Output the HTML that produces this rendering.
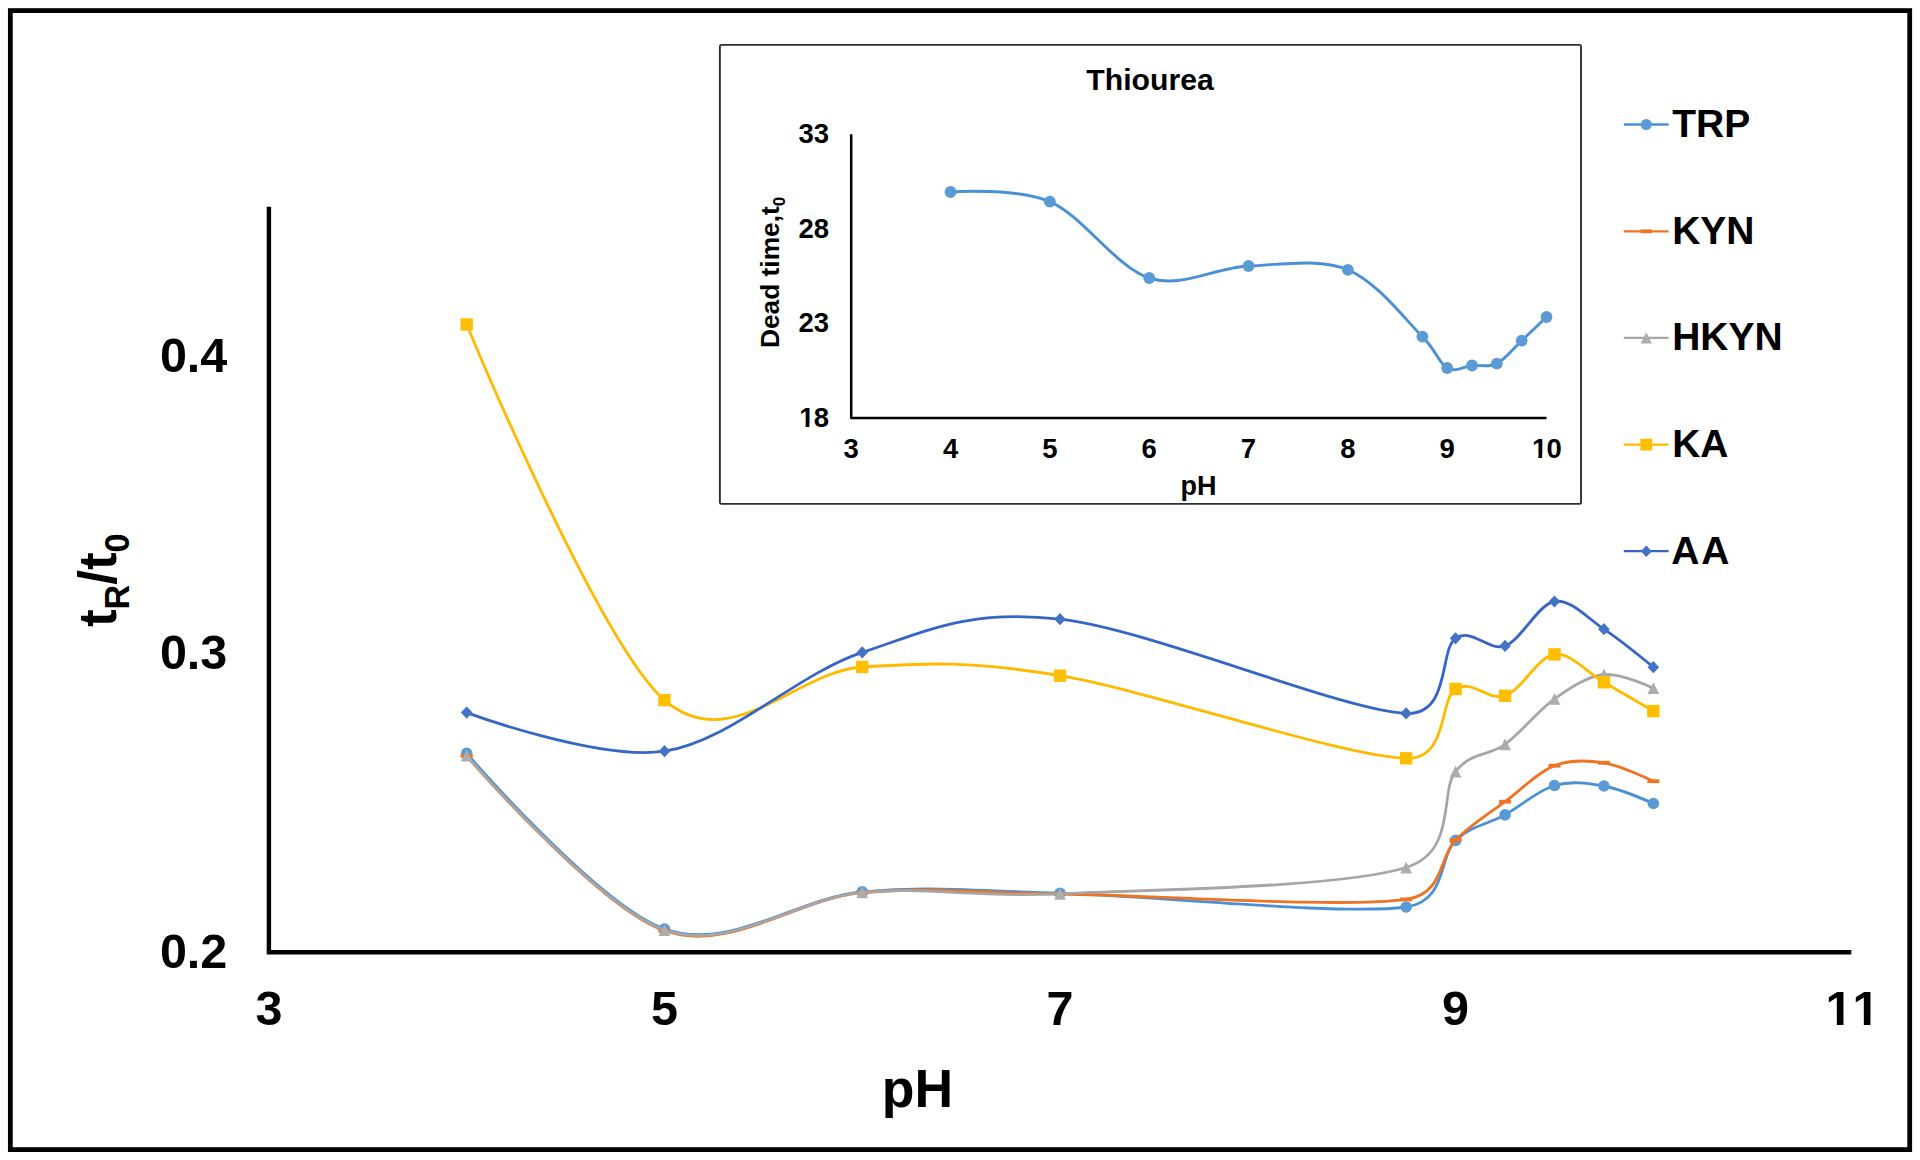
<!DOCTYPE html>
<html lang="en"><head><meta charset="utf-8"><title>tR/t0 vs pH</title>
<style>html,body{margin:0;padding:0;background:#fff;}body{width:1920px;height:1160px;overflow:hidden;}svg{display:block;}text{font-kerning:none;font-family:"Liberation Sans",Arial,sans-serif;font-weight:bold;fill:#000;}</style>
</head><body>
<svg width="1920" height="1160" viewBox="0 0 1920 1160">
<rect x="0" y="0" width="1920" height="1160" fill="#fff"/>
<rect x="10.35" y="10.6" width="1899.35" height="1139.0" fill="none" stroke="#000" stroke-width="4.8"/>
<path d="M268.9,206.8 V952.3 H1851.3" fill="none" stroke="#000" stroke-width="4.4" stroke-linejoin="miter"/>
<text x="227.3" y="371.6" font-size="48.5" text-anchor="end">0.4</text>
<text x="227.3" y="669.2" font-size="48.5" text-anchor="end">0.3</text>
<text x="227.3" y="967.6" font-size="48.5" text-anchor="end">0.2</text>
<text x="268.90" y="1025.40" font-size="48.5" text-anchor="middle">3</text>
<text x="664.46" y="1025.40" font-size="48.5" text-anchor="middle">5</text>
<text x="1060.02" y="1025.40" font-size="48.5" text-anchor="middle">7</text>
<text x="1455.58" y="1025.40" font-size="48.5" text-anchor="middle">9</text>
<text y="1025.40" font-size="48.5" x="1825.52 1852.50">11</text><rect x="1827.46" y="1019.34" width="9.38" height="7.56" fill="#fff"/><rect x="1843.50" y="1019.34" width="8.73" height="7.56" fill="#fff"/><rect x="1854.44" y="1019.34" width="9.38" height="7.56" fill="#fff"/><rect x="1870.47" y="1019.34" width="8.73" height="7.56" fill="#fff"/>
<text x="917.4" y="1106.6" font-size="53.5" text-anchor="middle">pH</text>
<text transform="translate(116,627) rotate(-90) scale(0.978,1)" font-size="54">t<tspan font-size="35" dy="13.2">R</tspan><tspan dy="-13.2">/t</tspan><tspan font-size="35" dy="13.2">0</tspan></text>
<path d="M466.68,753.40 C466.68,753.40 598.53,906.03 664.46,929.10 C730.39,952.17 796.31,897.78 862.24,891.80 C928.17,885.82 969.37,890.67 1060.02,893.20 C1150.67,895.73 1340.21,915.80 1406.13,907.00 C1447.24,901.51 1439.10,855.75 1455.58,840.40 C1472.06,825.05 1488.54,824.05 1505.03,814.90 C1521.51,805.75 1537.99,790.32 1554.47,785.50 C1570.95,780.68 1587.43,783.00 1603.91,786.00 C1620.40,789.00 1653.36,803.50 1653.36,803.50" fill="none" stroke="#4A90D6" stroke-width="2.8" stroke-linecap="round" stroke-linejoin="round"/>
<circle cx="466.68" cy="753.40" r="5.80" fill="#5B9BD5"/>
<circle cx="664.46" cy="929.10" r="5.80" fill="#5B9BD5"/>
<circle cx="862.24" cy="891.80" r="5.80" fill="#5B9BD5"/>
<circle cx="1060.02" cy="893.20" r="5.80" fill="#5B9BD5"/>
<circle cx="1406.13" cy="907.00" r="5.80" fill="#5B9BD5"/>
<circle cx="1455.58" cy="840.40" r="5.80" fill="#5B9BD5"/>
<circle cx="1505.03" cy="814.90" r="5.80" fill="#5B9BD5"/>
<circle cx="1554.47" cy="785.50" r="5.80" fill="#5B9BD5"/>
<circle cx="1603.91" cy="786.00" r="5.80" fill="#5B9BD5"/>
<circle cx="1653.36" cy="803.50" r="5.80" fill="#5B9BD5"/>
<path d="M466.68,756.00 C466.68,756.00 598.53,908.03 664.46,930.80 C730.39,953.57 796.31,898.73 862.24,892.60 C928.17,886.47 969.37,892.87 1060.02,894.00 C1150.67,895.13 1340.21,908.42 1406.13,899.40 C1444.46,894.16 1439.10,856.18 1455.58,839.90 C1472.06,823.62 1488.54,814.07 1505.03,801.70 C1521.51,789.33 1537.99,772.18 1554.47,765.70 C1570.95,759.22 1587.43,760.22 1603.91,762.80 C1620.40,765.38 1653.36,781.20 1653.36,781.20" fill="none" stroke="#EE7424" stroke-width="2.8" stroke-linecap="round" stroke-linejoin="round"/>
<rect x="460.68" y="754.10" width="12.00" height="3.80" fill="#EE7424"/>
<rect x="658.46" y="928.90" width="12.00" height="3.80" fill="#EE7424"/>
<rect x="856.24" y="890.70" width="12.00" height="3.80" fill="#EE7424"/>
<rect x="1054.02" y="892.10" width="12.00" height="3.80" fill="#EE7424"/>
<rect x="1400.13" y="897.50" width="12.00" height="3.80" fill="#EE7424"/>
<rect x="1449.58" y="838.00" width="12.00" height="3.80" fill="#EE7424"/>
<rect x="1499.03" y="799.80" width="12.00" height="3.80" fill="#EE7424"/>
<rect x="1548.47" y="763.80" width="12.00" height="3.80" fill="#EE7424"/>
<rect x="1597.91" y="760.90" width="12.00" height="3.80" fill="#EE7424"/>
<rect x="1647.36" y="779.30" width="12.00" height="3.80" fill="#EE7424"/>
<path d="M466.68,755.70 C466.68,755.70 598.53,907.22 664.46,930.00 C730.39,952.78 796.31,898.43 862.24,892.40 C928.17,886.37 969.37,897.95 1060.02,893.80 C1150.67,889.65 1340.21,887.88 1406.13,867.50 C1457.72,851.55 1439.10,792.02 1455.58,771.50 C1472.06,750.98 1488.54,756.50 1505.03,744.40 C1521.51,732.30 1537.99,710.55 1554.47,698.90 C1570.95,687.25 1587.43,676.28 1603.91,674.50 C1620.40,672.72 1653.36,688.20 1653.36,688.20" fill="none" stroke="#A6A6A6" stroke-width="2.8" stroke-linecap="round" stroke-linejoin="round"/>
<path d="M466.68,749.80 L472.58,761.60 L460.78,761.60 Z" fill="#ADADAD"/>
<path d="M664.46,924.10 L670.36,935.90 L658.56,935.90 Z" fill="#ADADAD"/>
<path d="M862.24,886.50 L868.14,898.30 L856.34,898.30 Z" fill="#ADADAD"/>
<path d="M1060.02,887.90 L1065.92,899.70 L1054.12,899.70 Z" fill="#ADADAD"/>
<path d="M1406.13,861.60 L1412.03,873.40 L1400.23,873.40 Z" fill="#ADADAD"/>
<path d="M1455.58,765.60 L1461.48,777.40 L1449.68,777.40 Z" fill="#ADADAD"/>
<path d="M1505.03,738.50 L1510.93,750.30 L1499.12,750.30 Z" fill="#ADADAD"/>
<path d="M1554.47,693.00 L1560.37,704.80 L1548.57,704.80 Z" fill="#ADADAD"/>
<path d="M1603.91,668.60 L1609.82,680.40 L1598.01,680.40 Z" fill="#ADADAD"/>
<path d="M1653.36,682.30 L1659.26,694.10 L1647.46,694.10 Z" fill="#ADADAD"/>
<path d="M466.68,324.50 C466.68,324.50 598.53,643.02 664.46,700.10 C730.39,757.18 796.31,671.07 862.24,667.00 C928.17,662.93 969.37,660.48 1060.02,675.70 C1150.67,690.92 1340.21,756.08 1406.13,758.30 C1448.68,759.73 1439.10,699.42 1455.58,689.00 C1472.06,678.58 1488.54,701.57 1505.03,695.80 C1521.51,690.03 1537.99,656.65 1554.47,654.40 C1570.95,652.15 1587.43,672.85 1603.91,682.30 C1620.40,691.75 1653.36,711.10 1653.36,711.10" fill="none" stroke="#FFBA00" stroke-width="2.8" stroke-linecap="round" stroke-linejoin="round"/>
<rect x="460.48" y="318.30" width="12.40" height="12.40" fill="#FFBE00"/>
<rect x="658.26" y="693.90" width="12.40" height="12.40" fill="#FFBE00"/>
<rect x="856.04" y="660.80" width="12.40" height="12.40" fill="#FFBE00"/>
<rect x="1053.82" y="669.50" width="12.40" height="12.40" fill="#FFBE00"/>
<rect x="1399.93" y="752.10" width="12.40" height="12.40" fill="#FFBE00"/>
<rect x="1449.38" y="682.80" width="12.40" height="12.40" fill="#FFBE00"/>
<rect x="1498.83" y="689.60" width="12.40" height="12.40" fill="#FFBE00"/>
<rect x="1548.27" y="648.20" width="12.40" height="12.40" fill="#FFBE00"/>
<rect x="1597.71" y="676.10" width="12.40" height="12.40" fill="#FFBE00"/>
<rect x="1647.16" y="704.90" width="12.40" height="12.40" fill="#FFBE00"/>
<path d="M466.68,712.60 C466.68,712.60 598.53,761.23 664.46,751.20 C730.39,741.17 796.31,674.40 862.24,652.40 C928.17,630.40 969.37,609.03 1060.02,619.20 C1150.67,629.37 1340.21,710.22 1406.13,713.40 C1451.04,715.57 1439.10,649.55 1455.58,638.30 C1472.06,627.05 1488.54,652.03 1505.03,645.90 C1521.51,639.77 1537.99,604.28 1554.47,601.50 C1570.95,598.72 1587.43,618.25 1603.91,629.20 C1620.40,640.15 1653.36,667.20 1653.36,667.20" fill="none" stroke="#3566C6" stroke-width="2.8" stroke-linecap="round" stroke-linejoin="round"/>
<path d="M460.88,712.60 L466.68,706.50 L472.48,712.60 L466.68,718.70 Z" fill="#4472C4"/>
<path d="M658.66,751.20 L664.46,745.10 L670.26,751.20 L664.46,757.30 Z" fill="#4472C4"/>
<path d="M856.44,652.40 L862.24,646.30 L868.04,652.40 L862.24,658.50 Z" fill="#4472C4"/>
<path d="M1054.22,619.20 L1060.02,613.10 L1065.82,619.20 L1060.02,625.30 Z" fill="#4472C4"/>
<path d="M1400.33,713.40 L1406.13,707.30 L1411.93,713.40 L1406.13,719.50 Z" fill="#4472C4"/>
<path d="M1449.78,638.30 L1455.58,632.20 L1461.38,638.30 L1455.58,644.40 Z" fill="#4472C4"/>
<path d="M1499.23,645.90 L1505.03,639.80 L1510.83,645.90 L1505.03,652.00 Z" fill="#4472C4"/>
<path d="M1548.67,601.50 L1554.47,595.40 L1560.27,601.50 L1554.47,607.60 Z" fill="#4472C4"/>
<path d="M1598.12,629.20 L1603.91,623.10 L1609.71,629.20 L1603.91,635.30 Z" fill="#4472C4"/>
<path d="M1647.56,667.20 L1653.36,661.10 L1659.16,667.20 L1653.36,673.30 Z" fill="#4472C4"/>
<path d="M1623.8,124.5 H1668.6" stroke="#4A90D6" stroke-width="2.3" fill="none"/>
<circle cx="1646.30" cy="124.50" r="5.51" fill="#5B9BD5"/>
<text x="1672.2" y="136.8" font-size="39">TRP</text>
<path d="M1623.8,231.3 H1668.6" stroke="#EE7424" stroke-width="2.3" fill="none"/>
<rect x="1640.60" y="229.40" width="11.40" height="3.80" fill="#EE7424"/>
<text x="1672.2" y="243.6" font-size="39">KYN</text>
<path d="M1623.8,337.9 H1668.6" stroke="#A6A6A6" stroke-width="2.3" fill="none"/>
<path d="M1646.30,332.29 L1651.90,343.50 L1640.69,343.50 Z" fill="#ADADAD"/>
<text x="1672.2" y="350.2" font-size="39">HKYN</text>
<path d="M1623.8,444.6 H1668.6" stroke="#FFBA00" stroke-width="2.3" fill="none"/>
<rect x="1640.41" y="438.71" width="11.78" height="11.78" fill="#FFBE00"/>
<text x="1672.2" y="456.9" font-size="39">KA</text>
<path d="M1623.8,551.2 H1668.6" stroke="#3566C6" stroke-width="2.3" fill="none"/>
<path d="M1640.79,551.20 L1646.30,545.41 L1651.81,551.20 L1646.30,557.00 Z" fill="#4472C4"/>
<text x="1671.3 1701.3" y="563.5" font-size="39">AA</text>
<rect x="719.9" y="44.9" width="861.1" height="459.0" rx="1.5" fill="#fff" stroke="#2e2e2e" stroke-width="1.9"/>
<text x="1150" y="89.8" font-size="30.2" text-anchor="middle">Thiourea</text>
<path d="M851.2,134.2 V418.1 H1546.5" fill="none" stroke="#000" stroke-width="2.5" stroke-linejoin="round"/>
<text x="829.03" y="143.00" font-size="27.5" text-anchor="end">33</text>
<text x="829.03" y="237.60" font-size="27.5" text-anchor="end">28</text>
<text x="829.03" y="332.20" font-size="27.5" text-anchor="end">23</text>
<text y="426.80" font-size="27.5" x="799.21 813.73">18</text><rect x="800.31" y="423.36" width="5.32" height="4.94" fill="#fff"/><rect x="809.40" y="423.36" width="4.95" height="4.94" fill="#fff"/>
<text x="851.20" y="457.80" font-size="27.5" text-anchor="middle">3</text>
<text x="950.53" y="457.80" font-size="27.5" text-anchor="middle">4</text>
<text x="1049.86" y="457.80" font-size="27.5" text-anchor="middle">5</text>
<text x="1149.19" y="457.80" font-size="27.5" text-anchor="middle">6</text>
<text x="1248.52" y="457.80" font-size="27.5" text-anchor="middle">7</text>
<text x="1347.85" y="457.80" font-size="27.5" text-anchor="middle">8</text>
<text x="1447.18" y="457.80" font-size="27.5" text-anchor="middle">9</text>
<text y="457.80" font-size="27.5" x="1531.99 1546.51">10</text><rect x="1533.09" y="454.36" width="5.32" height="4.94" fill="#fff"/><rect x="1542.18" y="454.36" width="4.95" height="4.94" fill="#fff"/>
<text x="1198.5" y="495.2" font-size="27" text-anchor="middle">pH</text>
<text transform="translate(778.8,348) rotate(-90)" font-size="26.3">Dead time,t<tspan font-size="17" dy="6.3">0</tspan></text>
<path d="M950.53,192.00 C950.53,192.00 1016.75,187.37 1049.86,201.70 C1082.97,216.03 1116.08,267.28 1149.19,278.00 C1182.30,288.72 1215.41,267.37 1248.52,266.00 C1281.63,264.63 1318.88,258.03 1347.85,269.80 C1376.82,281.57 1405.79,320.23 1422.35,336.60 C1436.58,350.67 1438.90,363.18 1447.18,368.00 C1455.46,372.82 1463.74,366.23 1472.01,365.50 C1480.29,364.77 1488.57,367.73 1496.85,363.60 C1505.12,359.47 1513.40,348.47 1521.68,340.70 C1529.95,332.93 1546.51,317.00 1546.51,317.00" fill="none" stroke="#4A90D6" stroke-width="2.9" stroke-linecap="round" stroke-linejoin="round"/>
<circle cx="950.53" cy="192.00" r="5.9" fill="#5B9BD5"/>
<circle cx="1049.86" cy="201.70" r="5.9" fill="#5B9BD5"/>
<circle cx="1149.19" cy="278.00" r="5.9" fill="#5B9BD5"/>
<circle cx="1248.52" cy="266.00" r="5.9" fill="#5B9BD5"/>
<circle cx="1347.85" cy="269.80" r="5.9" fill="#5B9BD5"/>
<circle cx="1422.35" cy="336.60" r="5.9" fill="#5B9BD5"/>
<circle cx="1447.18" cy="368.00" r="5.9" fill="#5B9BD5"/>
<circle cx="1472.01" cy="365.50" r="5.9" fill="#5B9BD5"/>
<circle cx="1496.85" cy="363.60" r="5.9" fill="#5B9BD5"/>
<circle cx="1521.68" cy="340.70" r="5.9" fill="#5B9BD5"/>
<circle cx="1546.51" cy="317.00" r="5.9" fill="#5B9BD5"/>
</svg>
</body></html>
